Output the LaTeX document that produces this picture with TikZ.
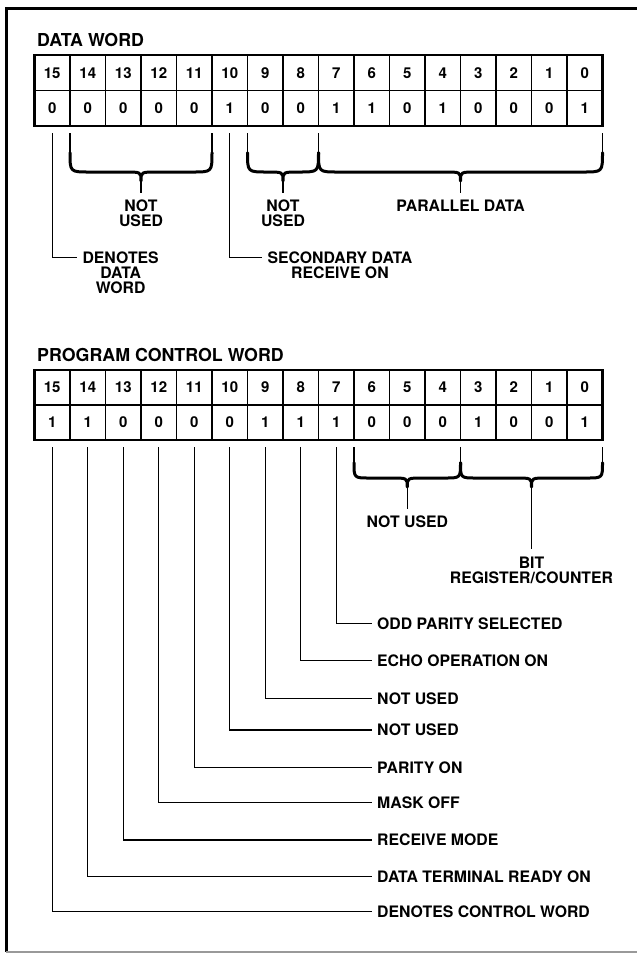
\documentclass[tikz,border=0pt]{standalone}
\usepackage{fontspec}
\setmainfont{TeX Gyre Heros}
\usetikzlibrary{calc}

\newcommand{\bitbrace}[6]{%
  \coordinate (bl) at ([yshift=-7pt]#1.south west);
  \coordinate (br) at ([yshift=-7pt]#2.south east);
  \coordinate (bm) at ($(bl)!0.5!(br)$);
  \draw[braceleg] (bl) -- ($(bl)+(0,#3/2)$);
  \draw[braceleg] (br) -- ($(br)+(0,#3/2)$);
  \draw[bracebar] ($(bl)+(0,#3/2)$) .. controls ($(bl)+(0,#3)$) .. ($(bl)+(#3/2,#3)$)
    -- ($(bm)+(-16,#3)$) .. controls ($(bm)+(0,#3)$) .. ($(bm)+(0,#3+9)$)
    .. controls ($(bm)+(0,#3)$) .. ($(bm)+(16,#3)$)
    -- ($(br)+(-#3/2,#3)$) .. controls ($(br)+(0,#3)$) .. ($(br)+(0,#3/2)$);
  \node[bracelabel] (#5) at ($(bm)+(0,#3+#4)$) {#6};
  \draw[lead] ($(bm)+(0,#3+9)$) -- (#5.north);
}

\begin{document}
\begin{tikzpicture}[x=1pt, y=-1pt,
  bitcell/.style={rectangle, draw, line width=1.2pt, minimum width=35.5pt,
                  minimum height=35.5pt, inner sep=0pt, outer sep=0pt,
                  font=\fontsize{15}{15}\selectfont\bfseries},
  regframe/.style={line width=2.4pt},
  frameline/.style={line width=3pt},
  wordtitle/.style={anchor=west, inner sep=1pt, font=\fontsize{17.8}{18}\selectfont\bfseries},
  fieldlabel/.style={anchor=west, inner xsep=5pt, inner ysep=1pt,
                     font=\fontsize{15.8}{15}\selectfont\bfseries},
  notelabel/.style={anchor=north west, align=center, inner xsep=5pt, inner ysep=1pt,
                    font=\fontsize{15.8}{15}\selectfont\bfseries},
  bracelabel/.style={anchor=north, align=center, inner xsep=1pt, inner ysep=7pt,
                     font=\fontsize{15.8}{15}\selectfont\bfseries},
  lead/.style={line width=1.1pt},
  braceleg/.style={line width=1.4pt},
  bracebar/.style={line width=3pt, line join=round, line cap=round}
]
  \useasboundingbox (0,0) rectangle (637,954);

  \draw[frameline] (637,8) -- (6,8) -- (6,952);
  \draw[frameline, line width=1.6pt, black!40] (6,952) -- (637,952);

  \node[wordtitle] (dwtitle) at (36,40) {DATA WORD};
  \foreach \b/\v [count=\i from 0] in {15/0,14/0,13/0,12/0,11/0,10/1,9/0,8/0,
                                       7/1,6/1,5/0,4/1,3/0,2/0,1/0,0/1} {
    \node[bitcell] (dt\b) at (52.25+35.5*\i,72.75) {\b};
    \node[bitcell] (db\b) at (52.25+35.5*\i,108.25) {\v};
  }
  \draw[regframe] (dt15.north west) rectangle (db0.south east);

  \bitbrace{db14}{db11}{39}{21}{nu1}{NOT\\USED}
  \bitbrace{db9}{db8}{39}{21}{nu2}{NOT\\USED}
  \bitbrace{db7}{db0}{39}{21}{pdata}{PARALLEL DATA}

  \node[notelabel] (dword) at (77.3,250.7) {DENOTES\\DATA\\WORD};
  \node[notelabel] (secrx) at (262.3,250.7) {SECONDARY DATA\\RECEIVE ON};
  \draw[lead] ([yshift=-7pt]db15.south) |- ([yshift=-6.6pt]dword.north west);
  \draw[lead] ([yshift=-7pt]db10.south) |- ([yshift=-6.6pt]secrx.north west);

  \node[wordtitle] (pctitle) at (36,355) {PROGRAM CONTROL WORD};
  \foreach \b/\v [count=\i from 0] in {15/1,14/1,13/0,12/0,11/0,10/0,9/1,8/1,
                                       7/1,6/0,5/0,4/0,3/1,2/0,1/0,0/1} {
    \node[bitcell, minimum height=35pt] (pt\b) at (52.25+35.5*\i,387.5) {\b};
    \node[bitcell, minimum height=35pt] (pb\b) at (52.25+35.5*\i,422.5) {\v};
  }
  \draw[regframe] (pt15.north west) rectangle (pb0.south east);

  \bitbrace{pb6}{pb4}{31}{30.6}{nu3}{NOT USED}
  \bitbrace{pb3}{pb0}{31}{71.3}{bitreg}{BIT\\REGISTER/COUNTER}

  \node[fieldlabel] (oddpar) at (372,623.3) {ODD PARITY SELECTED};
  \node[fieldlabel] (echo)   at (372,660.7) {ECHO OPERATION ON};
  \node[fieldlabel] (nu9)    at (372,698.3) {NOT USED};
  \node[fieldlabel] (nu10)   at (372,730)   {NOT USED};
  \node[fieldlabel] (parity) at (372,767.7) {PARITY ON};
  \node[fieldlabel] (mask)   at (372,802.3) {MASK OFF};
  \node[fieldlabel] (rxmode) at (372,840)   {RECEIVE MODE};
  \node[fieldlabel] (dtr)    at (372,876.7) {DATA TERMINAL READY ON};
  \node[fieldlabel] (ctrlw)  at (372,911.7) {DENOTES CONTROL WORD};

  \draw[lead] ([yshift=-7pt]pb7.south)  |- (oddpar.west);
  \draw[lead] ([yshift=-7pt]pb8.south)  |- (echo.west);
  \draw[lead] ([yshift=-7pt]pb9.south)  |- (nu9.west);
  \draw[lead] ([yshift=-7pt]pb10.south) |- (nu10.west);
  \draw[lead] ([yshift=-7pt]pb11.south) |- (parity.west);
  \draw[lead] ([yshift=-7pt]pb12.south) |- (mask.west);
  \draw[lead] ([yshift=-7pt]pb13.south) |- (rxmode.west);
  \draw[lead] ([yshift=-7pt]pb14.south) |- (dtr.west);
  \draw[lead] ([yshift=-7pt]pb15.south) |- (ctrlw.west);
\end{tikzpicture}
\end{document}
